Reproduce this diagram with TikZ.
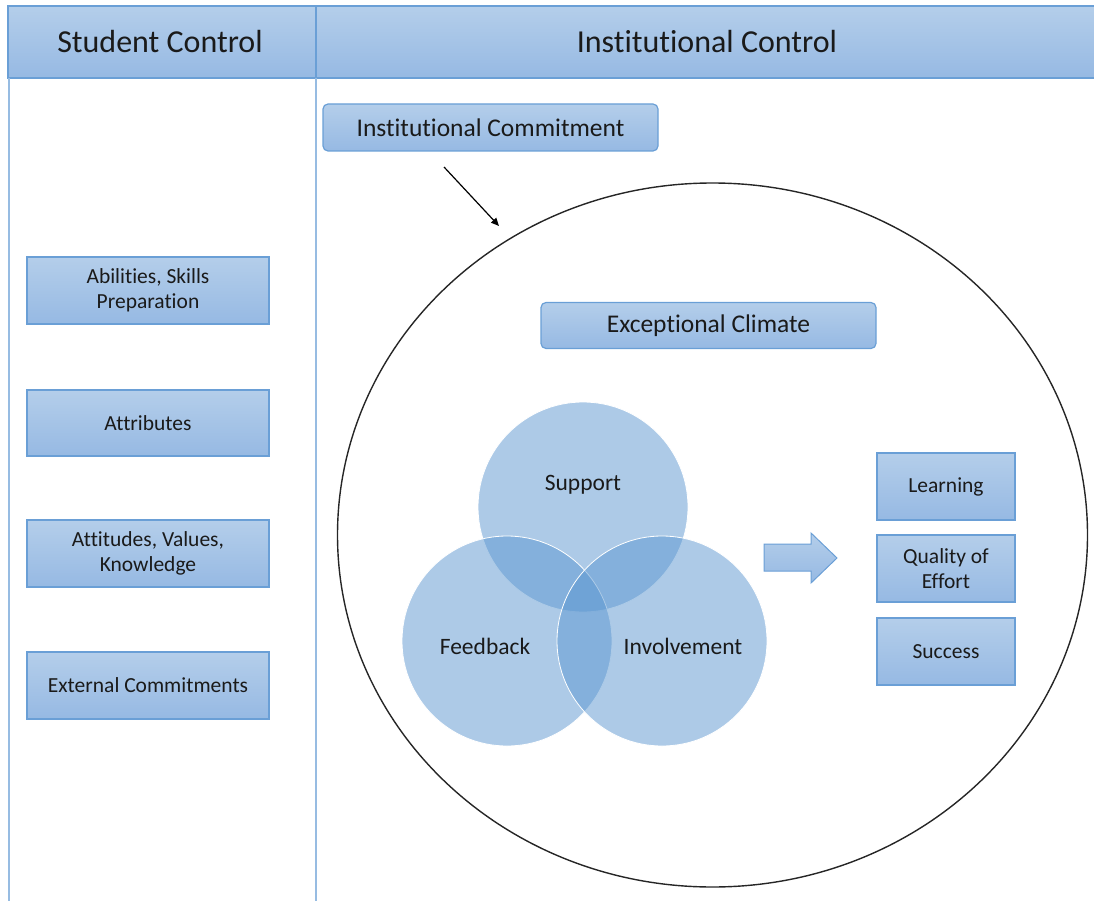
\documentclass[tikz,border=0pt]{standalone}
\usepackage{fontspec}
\setmainfont{Carlito}[Ligatures=NoCommon]
\usetikzlibrary{arrows.meta}
\definecolor{edgeblue}{HTML}{6A9FD6}
\definecolor{toplight}{HTML}{B4CEEA}
\definecolor{botdark}{HTML}{96B9E3}
\definecolor{vennblue}{HTML}{5B96D0}
\definecolor{inktext}{HTML}{1A1A1A}
\tikzset{
  panel/.style={draw=edgeblue, line width=1.2pt, top color=toplight, bottom color=botdark},
  sqbox/.style={panel, rectangle, inner sep=2pt, align=center, text=inktext, font=\fontsize{21.5}{25}\selectfont},
  rbox/.style={panel, rectangle, rounded corners=5pt, inner sep=2pt, align=center, text=inktext, font=\fontsize{25.5}{30}\selectfont},
  headtext/.style={text=inktext, font=\fontsize{32}{38}\selectfont},
  venn/.style={circle, fill=vennblue, fill opacity=0.5, draw=white, draw opacity=1, line width=0.8pt, minimum size=#1, inner sep=0pt},
  vlabel/.style={text=inktext, font=\fontsize{23.5}{28}\selectfont},
  colline/.style={draw=edgeblue!70!white, line width=1.3pt}
}
\begin{document}
\begin{tikzpicture}[x=1pt, y=-1pt]
\useasboundingbox (0,0) rectangle (1094,901);
% header band
\shade[top color=toplight, bottom color=botdark] (8,6) rectangle (1094,78);
\draw[edgeblue, line width=1.3pt] (1094,6) -- (8,6) -- (8,78) -- (1094,78);
\draw[edgeblue, line width=1.3pt] (316,6) -- (316,78);
\node[headtext] (hs) at (160,42) {Student Control};
\node[headtext] (hi) at (707,42) {Institutional Control};
% column rules
\draw[colline] (9,78) -- (9,901);
\draw[colline] (316,78) -- (316,901);
% student-side boxes
\node[sqbox, minimum width=242pt, minimum height=67pt] (abil) at (148,290.5) {Abilities, Skills\\Preparation};
\node[sqbox, minimum width=242pt, minimum height=66pt] (attr) at (148,423) {Attributes};
\node[sqbox, minimum width=242pt, minimum height=67pt] (attv) at (148,553.5) {Attitudes, Values,\\Knowledge};
\node[sqbox, minimum width=242pt, minimum height=67pt] (ext) at (148,685.5) {External Commitments};
% institutional commitment
\node[rbox, minimum width=335pt, minimum height=47pt] (icom) at (490.5,127.5) {Institutional Commitment};
\coordinate (a0) at (444,167);
\coordinate (a1) at (499,226);
\draw[line width=1.2pt, -{Triangle[length=8pt, width=7pt]}] (a0) -- (a1);
% climate ellipse
\draw[line width=1.4pt, black!85] (712.5,535) ellipse [x radius=375pt, y radius=352pt];
\node[rbox, minimum width=335pt, minimum height=46pt] (clim) at (708.5,325.5) {Exceptional Climate};
% venn circles
\node[venn=210pt] (sup) at (583,507) {};
\node[venn=210pt] (fbk) at (507,641) {};
\node[venn=210pt] (inv) at (662,641) {};
\node[vlabel] (lsup) at (583,485) {Support};
\node[vlabel] (lfbk) at (485,646) {Feedback};
\node[vlabel] (linv) at (683,646) {Involvement};
% block arrow
\path[panel, line width=1pt] (764,544) -- (811,544) -- (811,533) -- (837,558) -- (811,583) -- (811,571) -- (764,571) -- cycle;
% outcome boxes
\node[sqbox, minimum width=138pt, minimum height=67pt] (lrn) at (946,486.5) {Learning};
\node[sqbox, minimum width=138pt, minimum height=67pt] (qual) at (946,568.5) {Quality of\\Effort};
\node[sqbox, minimum width=138pt, minimum height=67pt] (succ) at (946,651.5) {Success};
\end{tikzpicture}
\end{document}
